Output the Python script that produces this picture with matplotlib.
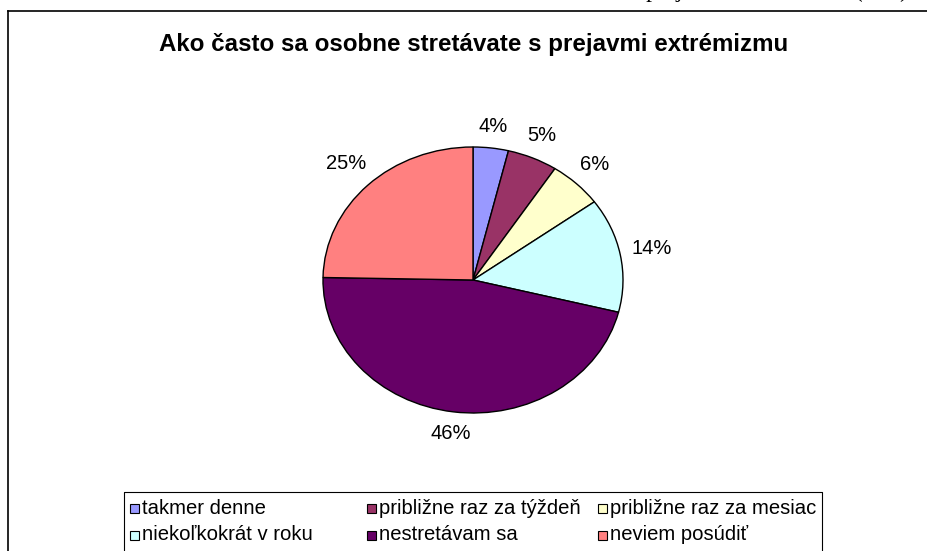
import numpy as np
import matplotlib.pyplot as plt
from matplotlib.patches import Rectangle
from matplotlib.lines import Line2D

# data
categories = ["takmer denne", "približne raz za týždeň", "približne raz za mesiac",
              "niekoľkokrát v roku", "nestretávam sa", "neviem posúdiť"]
shares = [3.8, 5.4, 5.8, 13.9, 46.4, 24.7]
colors = ["#9999FF", "#993366", "#FFFFCC", "#CCFFFF", "#660066", "#FF8080"]
title = "Ako často sa osobne stretávate s prejavmi extrémizmu"

W, H = 927, 551
plt.rcParams['font.family'] = ['Liberation Sans', 'DejaVu Sans']
fig = plt.figure(figsize=(W / 100, H / 100), dpi=100)

def fx(px):
    return px / W

def fy(py):
    return 1 - py / H

# frame of the chart object (cut off at right and bottom)
fig.add_artist(Line2D([fx(8), 1], [fy(11), fy(11)], color="k", lw=1.2))
fig.add_artist(Line2D([fx(8), fx(8)], [fy(11), 0], color="k", lw=1.2))

# clipped document line above the chart
fig.text(fx(908), fy(-3), "s prejavmi extrémizmu (v %)", ha="right", va="baseline",
         fontsize=17, family="Liberation Serif")

fig.text(fx(474), fy(45), title, ha="center", va="center", fontsize=17.4, fontweight="bold")

# pie (elliptical: rx=150px, ry=133px)
cx, cy, rx, ry = 473, 280, 150, 133
ax = fig.add_axes([fx(cx - rx), fy(cy + ry), 2 * rx / W, 2 * ry / H])
wedges, texts, autotexts = ax.pie(
    shares, colors=colors, startangle=90, counterclock=False,
    autopct=lambda p: f"{p:.0f}%", pctdistance=1.18,
    wedgeprops=dict(edgecolor="k", linewidth=1),
    textprops=dict(fontsize=14.5, color="k"))
ax.set_aspect("auto")
ax.set_xlim(-1, 1)
ax.set_ylim(-1, 1)
ax.axis("off")

# place labels at a fixed pixel gap outside the rim
fig.canvas.draw()
gap = 10
for w, t in zip(wedges, autotexts):
    a = np.deg2rad((w.theta1 + w.theta2) / 2)
    c, s = np.cos(a), np.sin(a)
    bb = t.get_window_extent()
    off = gap + 0.5 * abs(bb.width * c) + 0.5 * abs(bb.height * s)
    t.set_position((c + off * c / rx, s + off * s / ry))

# legend box
lx0, lx1, ly0 = 124, 822, 492
fig.add_artist(Line2D([fx(lx0), fx(lx0), fx(lx1), fx(lx1)],
                      [0, fy(ly0), fy(ly0), 0], color="k", lw=0.8))
col_x = [130, 367, 598]
row_y = [508, 535]
for i, (lab, c) in enumerate(zip(categories, colors)):
    x = col_x[i % 3]
    y = row_y[i // 3]
    fig.add_artist(Rectangle((fx(x), fy(y + 4.5)), 9 / W, 9 / H, facecolor=c,
                             edgecolor="k", lw=0.8, transform=fig.transFigure))
    fig.text(fx(x + 12), fy(y), lab, ha="left", va="center", fontsize=14.6)

fig.savefig("out.png", dpi=100)
